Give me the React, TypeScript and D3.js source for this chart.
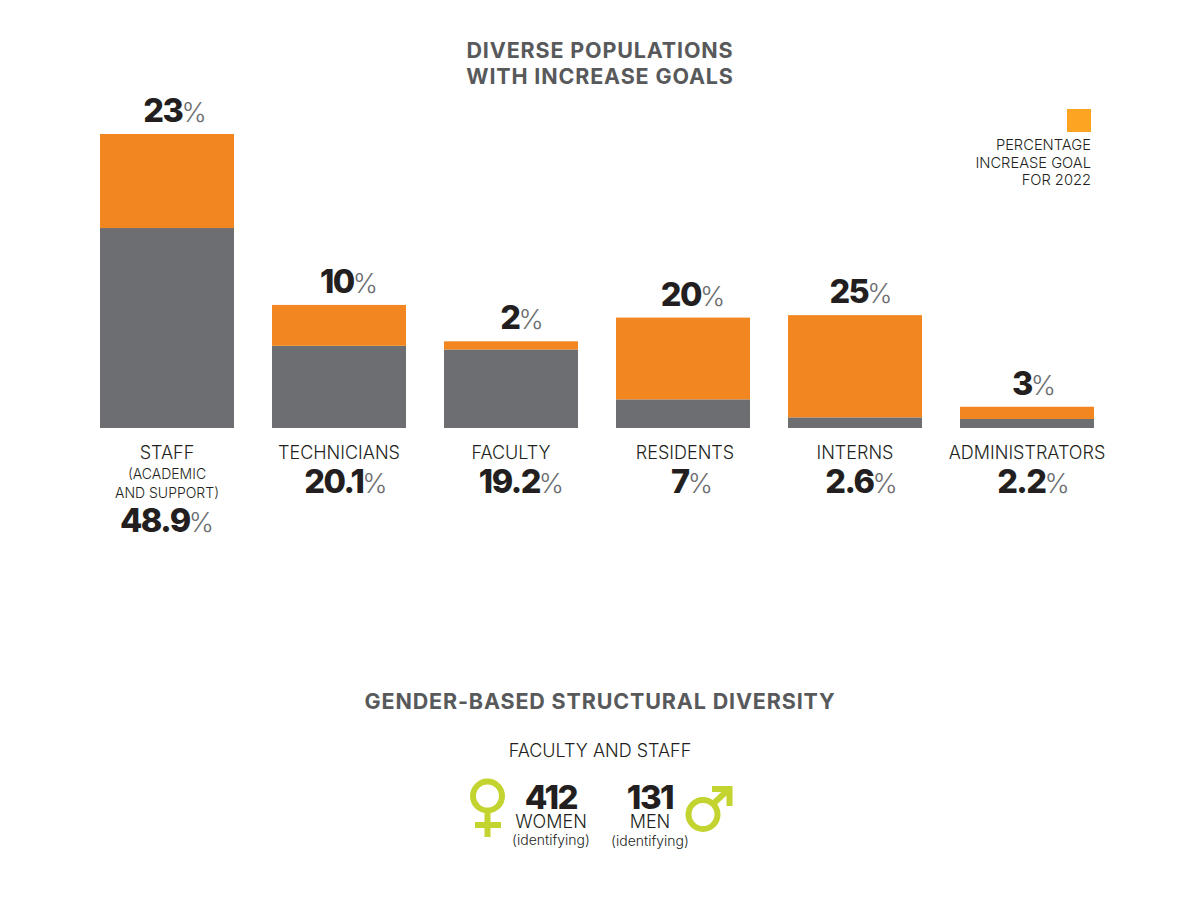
import React from "react";
import * as d3 from "d3";

const categories = ["STAFF", "TECHNICIANS", "FACULTY", "RESIDENTS", "INTERNS", "ADMINISTRATORS"];
const currentShare = [48.9, 20.1, 19.2, 7, 2.6, 2.2];
const increaseGoal = [23, 10, 2, 20, 25, 3];
const shareLabels = ["48.9", "20.1", "19.2", "7", "2.6", "2.2"];
const legendLines = ["PERCENTAGE", "INCREASE GOAL", "FOR 2022"];
const titleLines = ["DIVERSE POPULATIONS", "WITH INCREASE GOALS"];

const goalLabelShift = [8, 10, 11, 10, 6, 7];
const shareLabelShift = [0, 7, 10.5, 9, 6.5, 6.5];
const nameShift = [0, 0, 0, 2, 0, 0];

const GREY = "#6d6e71";
const ORANGE = "#f28721";
const LEGEND = "#fda522";
const INK = "#231f20";
const TITLE = "#58595b";
const GREEN = "#c3d32f";
const SANS = "Inter, Lato, sans-serif";

const x = d3.scaleBand<string>().domain(categories).range([100, 1094]).paddingInner(38 / 172).paddingOuter(0);
const y = d3.scaleLinear().domain([0, 71.9]).range([428, 134]);

function Num({ cx, yy, value }: { cx: number; yy: number; value: string }) {
  return (
    <text x={cx} y={yy} textAnchor="middle" fontFamily={SANS} fontSize={32.5} fontWeight={800} fill={INK} letterSpacing={-1.5}>
      {value}
      <tspan fontWeight={300} fill={GREY} dx={-1} fontSize={27} letterSpacing={0}>%</tspan>
    </text>
  );
}

function Label({ cx, yy, text, size = 18 }: { cx: number; yy: number; text: string; size?: number }) {
  return (
    <text x={cx} y={yy} textAnchor="middle" fontFamily={SANS} fontSize={size} fontWeight={300} fill={INK}>{text}</text>
  );
}

export default function App() {
  const w = x.bandwidth();
  return (
    <svg width={1200} height={900} style={{ position: "absolute", left: 0, top: 0, background: "#fff" }}>
      {titleLines.map((t, i) => (
        <text key={t} x={600} y={58 + i * 26} textAnchor="middle" fontFamily={SANS} fontSize={21.5} fontWeight={700} fill={TITLE} letterSpacing={0.85}>{t}</text>
      ))}

      {categories.map((c, i) => {
        const left = x(c)!;
        const cx = left + w / 2;
        const mid = y(currentShare[i]);
        const top = y(currentShare[i] + increaseGoal[i]);
        return (
          <g key={c}>
            <rect x={left} y={mid} width={w} height={y(0) - mid} fill={GREY} />
            <rect x={left} y={top} width={w} height={mid - top} fill={ORANGE} />
            <Num cx={cx + goalLabelShift[i]} yy={top - 12} value={String(increaseGoal[i])} />
            <Label cx={cx + nameShift[i]} yy={459} text={c} />
            {i > 0 && <Num cx={cx + shareLabelShift[i]} yy={493} value={shareLabels[i]} />}
          </g>
        );
      })}
      <Label cx={167} yy={479} text="(ACADEMIC" size={14} />
      <Label cx={167} yy={498} text="AND SUPPORT)" size={14} />
      <Num cx={167} yy={532} value={shareLabels[0]} />

      <rect x={1067} y={109} width={24} height={23} fill={LEGEND} />
      {legendLines.map((t, i) => (
        <text key={t} x={1091} y={150 + i * 17.5} textAnchor="end" fontFamily={SANS} fontSize={14.7} fontWeight={300} fill={INK}>{t}</text>
      ))}

      <text x={600} y={709} textAnchor="middle" fontFamily={SANS} fontSize={21.5} fontWeight={700} fill={TITLE} letterSpacing={0.85}>GENDER-BASED STRUCTURAL DIVERSITY</text>
      <Label cx={600} yy={757} text="FACULTY AND STAFF" />

      <circle cx={487.5} cy={796} r={14.5} fill="none" stroke={GREEN} strokeWidth={6} />
      <path d="M487.5 811V837M475 825H501" fill="none" stroke={GREEN} strokeWidth={6} />
      <circle cx={703} cy={814.5} r={14.5} fill="none" stroke={GREEN} strokeWidth={6} />
      <path d="M713 804L729 789M712 789H729.5V806" fill="none" stroke={GREEN} strokeWidth={6} />

      <text x={551} y={809} textAnchor="middle" fontFamily={SANS} fontSize={33} fontWeight={800} fill={INK} letterSpacing={-1.5}>412</text>
      <Label cx={551} yy={828} text="WOMEN" />
      <Label cx={551} yy={845} text="(identifying)" size={14} />
      <text x={650} y={809} textAnchor="middle" fontFamily={SANS} fontSize={33} fontWeight={800} fill={INK} letterSpacing={-1.5}>131</text>
      <Label cx={650} yy={828} text="MEN" />
      <Label cx={650} yy={846} text="(identifying)" size={14} />
    </svg>
  );
}
